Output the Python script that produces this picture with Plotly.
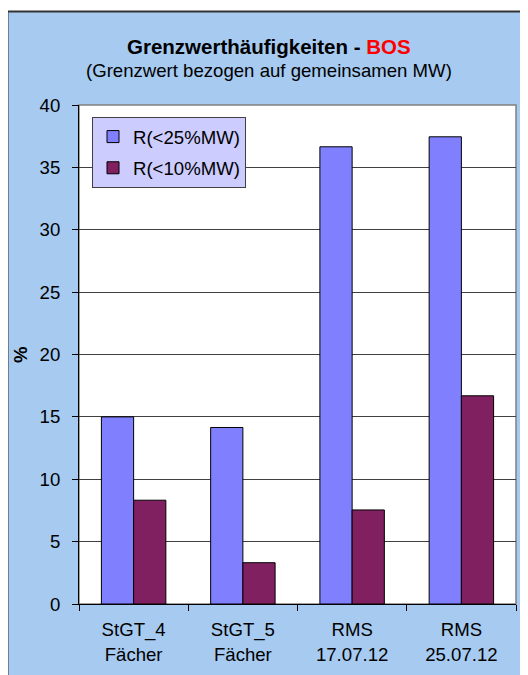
import plotly.graph_objects as go

categories = ["StGT_4<br>Fächer", "StGT_5<br>Fächer", "RMS<br>17.07.12", "RMS<br>25.07.12"]
r25 = [15.0, 14.15, 36.65, 37.45]
r10 = [8.32, 3.31, 7.54, 16.69]
series_names = ["R(<25%MW)", "R(<10%MW)"]
y_ticks = [0, 5, 10, 15, 20, 25, 30, 35, 40]

W, H = 528, 675
OFF = 8  # page body margin
L, R, T, B = 79 - OFF, 20, 105 - OFF, 79
pw = W - L - R
ph = H - T - B

def px_x(x):
    return (x - OFF - L) / pw

def px_y(y):
    return (H - B - (y - OFF)) / ph

FONT = "Liberation Sans, Arial, sans-serif"
FS = 18.6

fig = go.Figure()
fig.add_trace(go.Bar(x=categories, y=r25, name=series_names[0], legendgroup="a",
                     marker=dict(color="#8080FF", line=dict(color="#000000", width=1))))
fig.add_trace(go.Bar(x=categories, y=r10, name=series_names[1], legendgroup="b",
                     marker=dict(color="#802060", line=dict(color="#000000", width=1))))

fig.update_layout(
    width=W, height=H,
    margin=dict(l=L, r=R, t=T, b=B, pad=0),
    paper_bgcolor="white", plot_bgcolor="rgba(0,0,0,0)",
    font=dict(family=FONT, size=FS, color="#000000"),
    barmode="group", bargap=0.41, bargroupgap=0,
    showlegend=True,
    legend=dict(x=px_x(92), y=px_y(117), xanchor="left", yanchor="top",
                bgcolor="#CCCCFF", bordercolor="#404040", borderwidth=1,
                font=dict(family=FONT, size=FS), tracegroupgap=4,
                itemwidth=30),
    shapes=[
        dict(type="rect", xref="paper", yref="paper", layer="below",
             x0=px_x(7.5), x1=px_x(560), y0=px_y(11.5), y1=px_y(720),
             fillcolor="#A6CAF0", line=dict(color="#333333", width=2)),
        dict(type="rect", xref="paper", yref="paper", layer="below",
             x0=0, x1=1, y0=0, y1=1,
             fillcolor="white", line=dict(color="#808080", width=1.5)),
    ],
    annotations=[
        dict(text="<b>Grenzwerthäufigkeiten - <span style='color:#FF0000'>BOS</span></b>",
             xref="paper", yref="paper", x=px_x(269), y=px_y(46),
             xanchor="center", yanchor="middle", showarrow=False,
             font=dict(family=FONT, size=20.5, color="#000000")),
        dict(text="(Grenzwert bezogen auf gemeinsamen MW)",
             xref="paper", yref="paper", x=px_x(269), y=px_y(70),
             xanchor="center", yanchor="middle", showarrow=False,
             font=dict(family=FONT, size=FS, color="#000000")),
        dict(text="<b>%</b>", xref="paper", yref="paper", x=px_x(20), y=px_y(354),
             xanchor="center", yanchor="middle", showarrow=False, textangle=-90,
             font=dict(family=FONT, size=FS, color="#000000")),
    ],
)

fig.update_yaxes(range=[0, 40], tickvals=y_ticks, showgrid=True, gridcolor="#404040", gridwidth=1,
                 showline=True, linecolor="#000000", linewidth=1,
                 ticks="outside", ticklen=6, tickcolor="#000000",
                 ticklabelstandoff=8, zeroline=False,
                 tickfont=dict(family=FONT, size=FS))
fig.update_xaxes(showline=True, linecolor="#000000", linewidth=1,
                 ticks="outside", ticklen=6, tickcolor="#000000", tickson="boundaries",
                 ticklabelstandoff=9,
                 tickfont=dict(family=FONT, size=FS))

fig.write_html("out.html")
